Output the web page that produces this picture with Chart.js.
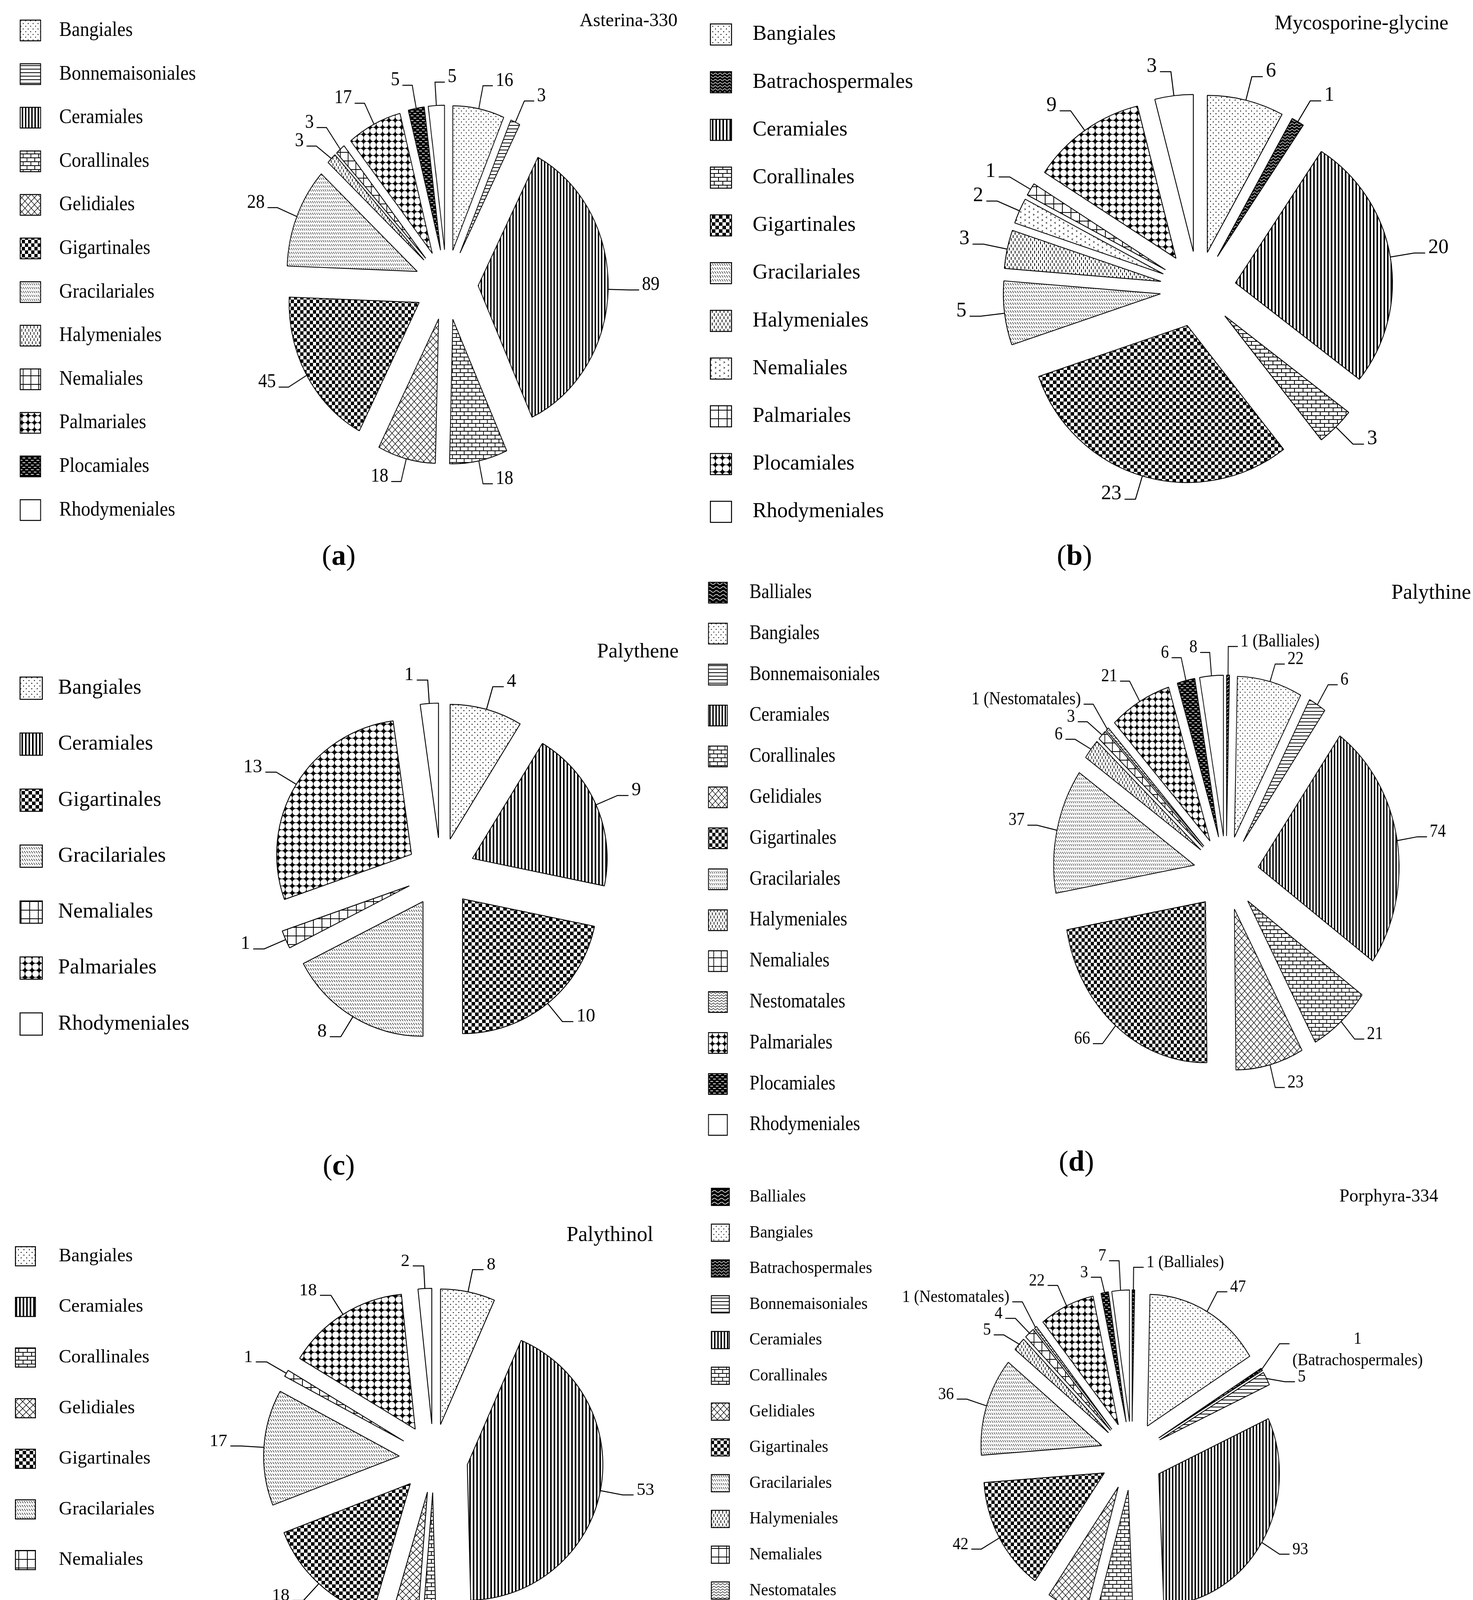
<!DOCTYPE html>
<html>
<head>
<meta charset="utf-8">
<title>Red algae orders per compound</title>
<script src="https://cdn.jsdelivr.net/npm/chart.js@4.4.1/dist/chart.umd.min.js"></script>
<style>
  html, body { margin: 0; padding: 0; background: #fff; }
  body { position: relative; width: 3770px; height: 4534px; overflow: hidden; font-family: "Liberation Serif", serif; color: #000; }
  canvas { position: absolute; transform-origin: 0 0; }
  .title { position: absolute; white-space: nowrap; line-height: 1; }
  .tag { position: absolute; width: 200px; text-align: center; font-size: 74px; line-height: 1; }
</style>
</head>
<body>
<script>
// ---- data ----
const ordersA = ['Bangiales', 'Bonnemaisoniales', 'Ceramiales', 'Corallinales', 'Gelidiales', 'Gigartinales', 'Gracilariales', 'Halymeniales', 'Nemaliales', 'Palmariales', 'Plocamiales', 'Rhodymeniales'];
const countsA = [16, 3, 89, 18, 18, 45, 28, 3, 3, 17, 5, 5];

const ordersB = ['Bangiales', 'Batrachospermales', 'Ceramiales', 'Corallinales', 'Gigartinales', 'Gracilariales', 'Halymeniales', 'Nemaliales', 'Palmariales', 'Plocamiales', 'Rhodymeniales'];
const countsB = [6, 1, 20, 3, 23, 5, 3, 2, 1, 9, 3];

const ordersC = ['Bangiales', 'Ceramiales', 'Gigartinales', 'Gracilariales', 'Nemaliales', 'Palmariales', 'Rhodymeniales'];
const countsC = [4, 9, 10, 8, 1, 13, 1];

const ordersD = ['Balliales', 'Bangiales', 'Bonnemaisoniales', 'Ceramiales', 'Corallinales', 'Gelidiales', 'Gigartinales', 'Gracilariales', 'Halymeniales', 'Nemaliales', 'Nestomatales', 'Palmariales', 'Plocamiales', 'Rhodymeniales'];
const countsD = [1, 22, 6, 74, 21, 23, 66, 37, 6, 3, 1, 21, 6, 8];

const ordersE = ['Bangiales', 'Ceramiales', 'Corallinales', 'Gelidiales', 'Gigartinales', 'Gracilariales', 'Nemaliales', 'Palmariales', 'Rhodymeniales'];
const countsE = [8, 53, 2, 4, 18, 17, 1, 18, 2];

const ordersF = ['Balliales', 'Bangiales', 'Batrachospermales', 'Bonnemaisoniales', 'Ceramiales', 'Corallinales', 'Gelidiales', 'Gigartinales', 'Gracilariales', 'Halymeniales', 'Nemaliales', 'Nestomatales', 'Palmariales', 'Plocamiales', 'Rhodymeniales'];
const countsF = [1, 47, 1, 5, 93, 15, 16, 42, 36, 5, 4, 1, 22, 3, 7];

const chartTitles = ['Asterina-330', 'Mycosporine-glycine', 'Palythene', 'Palythine', 'Palythinol', 'Porphyra-334'];

// orders whose name is printed with the value (' ' = same line, '\n' = next line)
const notesD = { Balliales: ' ', Nestomatales: ' ' };
const notesF = { Balliales: ' ', Nestomatales: ' ', Batrachospermales: '\n' };

// ---- fill patterns ----
const fillKey = {
  Balliales: 'waveDark', Bangiales: 'dots', Batrachospermales: 'zigDark', Bonnemaisoniales: 'hlines',
  Ceramiales: 'vlines', Corallinales: 'bricks', Gelidiales: 'lattice', Gigartinales: 'checker',
  Gracilariales: 'dashDiag', Halymeniales: 'dashVert', Nemaliales: 'grid', Nestomatales: 'zigzag',
  Palmariales: 'diamonds', Plocamiales: 'darkDash', Rhodymeniales: 'plain'
};
// panel (b) uses its own swatches for three orders
const fillKeyB = Object.assign({}, fillKey, { Nemaliales: 'chevrons', Palmariales: 'grid', Plocamiales: 'diamonds' });

function line(g, x1, y1, x2, y2) {
  g.beginPath(); g.moveTo(x1, y1); g.lineTo(x2, y2); g.stroke();
}
function wave(g, w, y0, amp, lw) {
  g.strokeStyle = '#fff'; g.lineWidth = lw; g.beginPath();
  for (let x = -1, n = 0; x <= w + 1; x += 0.5, n++) {
    const y = y0 + amp * Math.sin(2 * Math.PI * x / w);
    if (n === 0) g.moveTo(x, y); else g.lineTo(x, y);
  }
  g.stroke();
}

const tiles = {
  dots: [14, 14, g => { g.fillRect(3, 3, 2.4, 2.4); g.fillRect(10, 10, 2.4, 2.4); }],
  hlines: [9, 9, g => g.fillRect(0, 3, 9, 2)],
  vlines: [9, 9, g => g.fillRect(0, 0, 4, 9)],
  bricks: [22, 20, g => { g.fillRect(0, 0, 22, 2); g.fillRect(0, 10, 22, 2); g.fillRect(0, 0, 2, 10); g.fillRect(11, 10, 2, 10); }],
  lattice: [18, 18, g => { g.lineWidth = 1.4; line(g, 0, 0, 18, 18); line(g, 18, 0, 0, 18); }],
  checker: [18, 18, g => { g.fillRect(0, 0, 9, 9); g.fillRect(9, 9, 9, 9); }],
  dashDiag: [6, 10, g => { g.lineWidth = 1.3; line(g, 0.8, 1.5, 5, 7.5); }],
  dashVert: [10, 16, g => { g.fillRect(2, 1, 2, 7); g.fillRect(7, 9, 2, 7); }],
  grid: [22, 22, g => { g.fillRect(0, 0, 22, 2); g.fillRect(0, 0, 2, 22); }],
  diamonds: [18, 18, g => {
    g.fillRect(0, 0, 18, 18); g.fillStyle = '#fff';
    [[0, 0], [18, 0], [0, 18], [18, 18]].forEach(([x, y]) => { g.beginPath(); g.arc(x, y, 8.5, 0, 2 * Math.PI); g.fill(); });
  }],
  darkDash: [16, 12, g => {
    g.fillRect(0, 0, 16, 12); g.fillStyle = '#fff';
    g.fillRect(1, 2.5, 8, 2); g.fillRect(9, 8.5, 8, 2); g.fillRect(-7, 8.5, 8, 2);
  }],
  waveDark: [20, 10, g => { g.fillRect(0, 0, 20, 10); wave(g, 20, 5, 2.5, 1.6); }],
  zigDark: [12, 8, g => { g.fillRect(0, 0, 12, 8); wave(g, 12, 4, 2, 1.4); }],
  zigzag: [12, 7, g => { g.lineWidth = 1.3; g.beginPath(); g.moveTo(0, 5.5); g.lineTo(6, 1.5); g.lineTo(12, 5.5); g.stroke(); }],
  chevrons: [22, 14, g => {
    g.lineWidth = 1.2; g.beginPath();
    g.moveTo(6, 1.5); g.lineTo(3, 3.5); g.lineTo(6, 5.5);
    g.moveTo(14, 8.5); g.lineTo(17, 10.5); g.lineTo(14, 12.5);
    g.stroke();
  }]
};

const patternCache = {};
function fillFor(key) {
  if (key === 'plain') return '#fff';
  if (!patternCache[key]) {
    const [w, h, draw] = tiles[key];
    const c = document.createElement('canvas');
    c.width = w; c.height = h;
    const g = c.getContext('2d');
    g.fillStyle = '#fff'; g.fillRect(0, 0, w, h);
    g.fillStyle = '#000'; g.strokeStyle = '#000';
    draw(g);
    patternCache[key] = g.createPattern(c, 'repeat');
  }
  return patternCache[key];
}

function labelText(name, v, notes) {
  const n = notes[name];
  if (n === '\n') return v + '\n(' + name + ')';
  if (n) return v + ' (' + name + ')';
  return String(v);
}

// ---- panel layout (page pixels; k = horizontal squeeze of the panel) ----
const panels = [
  { tag: 'a', title: chartTitles[0], names: ordersA, counts: countsA, fills: fillKey, notes: {},
    k: 0.9, boxX: 52, firstY: 78, pitch: 111.6, boxW: 58, boxH: 53, legendSize: 53, spaces: 2, right: 1885,
    cx: 1143, cy: 729, r: 370, explode: 90, labelSize: 50, lead: 60, rightBias: 0.07,
    titleRight: 1734, titleY: 51, titleSize: 48, tagX: 867, tagY: 1421 },
  { tag: 'b', title: chartTitles[1], names: ordersB, counts: countsB, fills: fillKeyB, notes: {},
    k: 1, boxX: 1818, firstY: 88, pitch: 122.2, boxW: 54, boxH: 54, legendSize: 54, spaces: 2, right: 3770,
    cx: 3066, cy: 740, r: 402, explode: 97, labelSize: 52, lead: 62, rightBias: 0,
    titleRight: 3707, titleY: 58, titleSize: 52, tagX: 2750, tagY: 1421 },
  { tag: 'c', title: chartTitles[2], names: ordersC, counts: countsC, fills: fillKey, notes: {},
    k: 1, boxX: 51, firstY: 1762, pitch: 143.3, boxW: 57, boxH: 57, legendSize: 54, spaces: 1, right: 1885,
    cx: 1128, cy: 2233, r: 345, explode: 88, labelSize: 48, lead: 60, rightBias: 0,
    titleRight: 1737, titleY: 1665, titleSize: 53, tagX: 867, tagY: 2982 },
  { tag: 'd', title: chartTitles[3], names: ordersD, counts: countsD, fills: fillKey, notes: notesD,
    k: 0.875, boxX: 1813, firstY: 1517, pitch: 104.8, boxW: 55, boxH: 53, legendSize: 52, spaces: 3, right: 3770,
    cx: 3138, cy: 2235, r: 412, explode: 95, labelSize: 47, lead: 60, rightBias: 0,
    titleRight: 3765, titleY: 1515, titleSize: 54, tagX: 2755, tagY: 2972 },
  { tag: 'e', title: chartTitles[4], names: ordersE, counts: countsE, fills: fillKey, notes: {},
    k: 1, boxX: 40, firstY: 3216, pitch: 129.6, boxW: 51, boxH: 49, legendSize: 48, spaces: 3, right: 1885,
    cx: 1110, cy: 3733, r: 347, explode: 88, labelSize: 45, lead: 58, rightBias: 0,
    titleRight: 1672, titleY: 3159, titleSize: 54, tagX: 867, tagY: 4462 },
  { tag: 'f', title: chartTitles[5], names: ordersF, counts: countsF, fills: fillKey, notes: notesF,
    k: 0.917, boxX: 1821, firstY: 3064, pitch: 91.6, boxW: 50, boxH: 44, legendSize: 45, spaces: 3, right: 3770,
    cx: 2897, cy: 3727, r: 337, explode: 88, labelSize: 44, lead: 58, rightBias: 0,
    titleRight: 3681, titleY: 3061, titleSize: 46, tagX: 2755, tagY: 4462 }
];

// exploded slices around a fixed centre, plus elbow leader labels
const piePlugin = {
  id: 'pieLayout',
  afterDatasetsUpdate(chart, args, o) {
    chart.getDatasetMeta(0).data.forEach(arc => {
      const a = (arc.startAngle + arc.endAngle) / 2;
      arc.x = o.cx + Math.cos(a) * o.explode;
      arc.y = o.cy + Math.sin(a) * o.explode;
    });
  },
  afterDatasetsDraw(chart, args, o) {
    const ctx = chart.ctx;
    const fs = o.size, lineH = fs * 1.25, h = 28, gap = 8;
    ctx.save();
    ctx.font = fs + 'px "Liberation Serif", serif';
    const items = chart.getDatasetMeta(0).data.map((arc, i) => {
      const a = (arc.startAngle + arc.endAngle) / 2;
      const c = Math.cos(a), s = Math.sin(a);
      const R = arc.outerRadius;
      const lines = o.texts[i].split('\n');
      return {
        px: arc.x + c * R, py: arc.y + s * R,
        ex: arc.x + c * (R + o.lead), ey: arc.y + s * (R + o.lead),
        side: c >= -o.rightBias ? 1 : -1, lines,
        w: Math.max(...lines.map(t => ctx.measureText(t).width))
      };
    });
    const spanX = it => it.side > 0 ? [it.ex, it.ex + h + gap + it.w] : [it.ex - h - gap - it.w, it.ex];
    const spanY = it => [it.ey - fs * 0.75, it.ey + (it.lines.length - 1) * lineH + fs * 0.12];
    for (let pass = 0; pass < 80; pass++) {
      let moved = false;
      for (let i = 0; i < items.length; i++) {
        for (let j = i + 1; j < items.length; j++) {
          const A = items[i], B = items[j];
          const [ax0, ax1] = spanX(A), [bx0, bx1] = spanX(B);
          if (ax1 + 4 < bx0 || bx1 + 4 < ax0) continue;
          const upper = A.ey <= B.ey ? A : B, lower = upper === A ? B : A;
          const d = spanY(upper)[1] + 4 - spanY(lower)[0];
          if (d > 0) { upper.ey -= d / 2; lower.ey += d / 2; moved = true; }
        }
      }
      if (!moved) break;
    }
    ctx.strokeStyle = '#000'; ctx.fillStyle = '#000'; ctx.lineWidth = 2.5;
    ctx.textAlign = 'center'; ctx.textBaseline = 'alphabetic';
    items.forEach(it => {
      const hx = it.ex + it.side * h;
      ctx.beginPath();
      ctx.moveTo(it.px, it.py); ctx.lineTo(it.ex, it.ey); ctx.lineTo(hx, it.ey);
      ctx.stroke();
      const mid = hx + it.side * (gap + it.w / 2);
      it.lines.forEach((t, n) => ctx.fillText(t, mid, it.ey + n * lineH));
    });
    ctx.restore();
  }
};

panels.forEach(P => {
  const itemH = Math.max(P.legendSize, P.boxH);
  const pad = P.pitch - itemH;
  const left = P.boxX - P.k * pad;
  const top = P.firstY - itemH / 2 - pad;
  const width = Math.round((P.right - left) / P.k);
  const height = 1560;

  const cv = document.createElement('canvas');
  cv.width = width; cv.height = height;
  cv.style.left = left + 'px'; cv.style.top = top + 'px';
  cv.style.width = width + 'px'; cv.style.height = height + 'px';
  cv.style.transform = 'scaleX(' + P.k + ')';
  document.body.appendChild(cv);

  const fills = P.names.map(n => fillFor(P.fills[n]));
  const texts = P.names.map((n, i) => labelText(n, P.counts[i], P.notes));
  const lead = ' '.repeat(P.spaces);

  new Chart(cv, {
    type: 'pie',
    data: {
      labels: P.names,
      datasets: [{ data: P.counts, backgroundColor: fills, borderColor: '#000', borderWidth: 2.2 }]
    },
    options: {
      responsive: false,
      animation: false,
      devicePixelRatio: 1,
      events: [],
      radius: P.r,
      layout: { padding: 0 },
      plugins: {
        tooltip: { enabled: false },
        legend: {
          position: 'left',
          align: 'start',
          labels: {
            boxWidth: P.boxW,
            boxHeight: P.boxH,
            padding: pad,
            color: '#000',
            font: { family: '"Liberation Serif", serif', size: P.legendSize },
            generateLabels: chart => chart.data.labels.map((t, i) => ({
              text: lead + t,
              fillStyle: fills[i],
              strokeStyle: '#000',
              lineWidth: 2.5,
              fontColor: '#000',
              hidden: false,
              index: i
            }))
          }
        },
        pieLayout: {
          cx: (P.cx - left) / P.k,
          cy: P.cy - top,
          explode: P.explode,
          size: P.labelSize,
          lead: P.lead,
          rightBias: P.rightBias,
          texts
        }
      }
    },
    plugins: [piePlugin]
  });

  const t = document.createElement('div');
  t.className = 'title';
  t.textContent = P.title;
  t.style.fontSize = P.titleSize + 'px';
  t.style.right = (3770 - P.titleRight) + 'px';
  t.style.top = (P.titleY - P.titleSize * 0.5) + 'px';
  document.body.appendChild(t);

  const g = document.createElement('div');
  g.className = 'tag';
  g.innerHTML = '(<b>' + P.tag + '</b>)';
  g.style.left = (P.tagX - 100) + 'px';
  g.style.top = (P.tagY - 37) + 'px';
  document.body.appendChild(g);
});
</script>
</body>
</html>
